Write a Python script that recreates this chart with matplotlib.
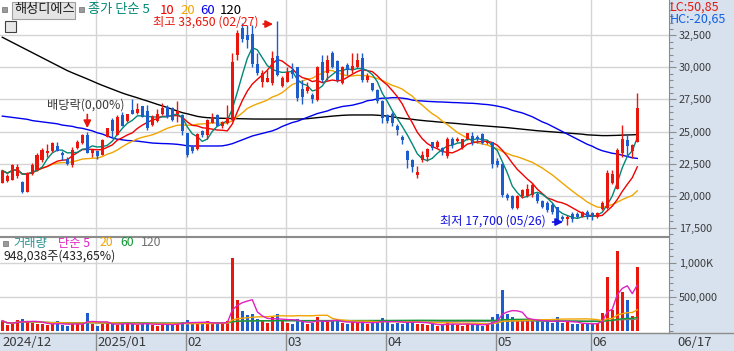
import numpy as np
import pandas as pd
import matplotlib
matplotlib.use('Agg')
import matplotlib.pyplot as plt
from matplotlib.patches import Rectangle

plt.rcParams['font.family'] = ['Noto Sans CJK KR', 'DejaVu Sans']

# ---------------- data (daily candles, 2024-12-02 .. 2025-06-17) ----------------
opens = [21000, 21150, 21250, 21500, 21100, 20300, 21700, 22000, 22800, 23300,
         23450, 23850, 23300, 22850, 22400, 23700, 24100, 24750, 23350, 23450,
         23150, 24600, 25900, 24750, 26300, 25800, 26700, 26450, 26950, 26600,
         25500, 25800, 26350, 26900, 26800, 26350, 26300, 24850, 23850, 23650,
         25050, 24750, 25700, 26250, 25450, 25650, 25900, 30950, 33100, 32550,
         32600, 30300, 28900, 28900, 28750, 30900, 28550, 28900, 29800, 30000,
         28350, 28150, 27850, 27450, 30450, 29550, 31100, 30500, 28750, 30150,
         29800, 30050, 30750, 29000, 28750, 28250, 27350, 26300, 26400, 25450,
         24600, 23500, 22800, 21600, 22800, 23000, 24150, 23800, 23700, 23050,
         24450, 24250, 23700, 24450, 24650, 24550, 24800, 24100, 24150, 22700,
         22500, 20050, 19950, 19000, 19950, 19950, 20050, 20150, 19550, 19450,
         19250, 19100, 18350, 18150, 18600, 18600, 18350, 18750, 18650, 18300,
         18950, 19000, 20950, 20550, 23300, 24350, 23500, 24150]
highs = [22000, 21700, 22500, 22450, 21150, 21850, 22550, 23300, 23700, 24000,
         24200, 24150, 23450, 23000, 23800, 24350, 24800, 25000, 23600, 23500,
         24450, 25300, 26050, 26300, 26550, 26400, 27500, 27200, 27000, 27050,
         26250, 26750, 27250, 27050, 26900, 27350, 26350, 24900, 23900, 24850,
         25100, 25950, 26450, 26350, 25850, 27050, 31100, 32900, 33450, 33300,
         33300, 31100, 29800, 29800, 31250, 33650, 29350, 30050, 30350, 30050,
         29000, 28900, 28000, 30100, 30950, 30950, 31300, 30600, 30100, 30350,
         31100, 31100, 31100, 29550, 28800, 28300, 27450, 26400, 26550, 25600,
         24750, 23550, 22850, 22300, 23450, 23700, 24200, 24300, 23800, 24600,
         24600, 24550, 24450, 24900, 25000, 24750, 24850, 24300, 24200, 22900,
         22550, 20200, 20050, 20050, 20550, 20900, 20950, 20250, 19650, 19550,
         19400, 19150, 18450, 18500, 18700, 18700, 18800, 18900, 18750, 18750,
         19550, 22000, 22000, 23700, 25500, 24800, 24050, 28000]
lows = [20950, 21100, 21200, 21400, 20200, 20300, 21600, 21950, 22650, 23050,
        23400, 23450, 22800, 22400, 22250, 23600, 24000, 23350, 23050, 22850,
        23150, 24550, 24600, 24750, 25400, 25750, 26350, 26400, 26100, 25150,
        25450, 25750, 26300, 26050, 25850, 25750, 24750, 23050, 23300, 23550,
        24600, 24450, 25650, 25400, 25300, 25550, 25850, 30600, 32000, 31500,
        30050, 29400, 28500, 28850, 28650, 29350, 28500, 28850, 29150, 27350,
        27150, 28000, 27250, 27350, 28900, 29000, 29950, 28900, 28700, 29400,
        29550, 29950, 28900, 28900, 28150, 27250, 25650, 25650, 25400, 24750,
        24050, 22150, 21850, 21400, 22650, 22700, 23550, 23700, 23150, 22900,
        23700, 24200, 23650, 24350, 23950, 24100, 24000, 24000, 22150, 22250,
        19900, 19650, 18950, 18950, 19850, 19900, 19900, 19400, 19000, 18750,
        18600, 17900, 18000, 17700, 17950, 18250, 18300, 18150, 18100, 18250,
        18900, 18950, 20900, 20500, 23050, 23150, 22900, 24150]
closes = [21950, 21550, 22350, 22250, 20300, 21800, 22400, 23150, 23550, 23450,
          24100, 23500, 23150, 22450, 23550, 24200, 24750, 23350, 23550, 23100,
          24350, 25250, 25000, 26150, 25450, 26350, 26400, 26750, 26150, 25250,
          26150, 26350, 26800, 26150, 25900, 26600, 25000, 23150, 23450, 24800,
          24750, 25900, 26150, 25450, 25750, 26050, 30400, 32650, 32250, 32150,
          30250, 29550, 29550, 29200, 30750, 29400, 29150, 29650, 29500, 27600,
          27700, 28500, 27500, 30050, 29000, 30600, 30050, 29000, 30050, 29800,
          30100, 30600, 29000, 29300, 28200, 27350, 26050, 25850, 25650, 25100,
          24300, 22800, 22250, 21850, 23150, 23600, 23700, 24150, 23450, 24450,
          23950, 24450, 24400, 24850, 24100, 24400, 24100, 24200, 22500, 22350,
          20050, 19800, 19000, 19950, 20400, 20550, 20850, 19550, 19150, 18900,
          18750, 18100, 18150, 18350, 18150, 18350, 18750, 18350, 18300, 18650,
          19450, 21750, 21700, 23550, 24450, 23850, 23950, 26800]
volumes = [150000, 90000, 110000, 160000, 170000, 150000, 120000, 100000, 110000, 90000,
           100000, 140000, 90000, 80000, 100000, 110000, 120000, 260000, 110000, 80000,
           100000, 120000, 110000, 90000, 100000, 120000, 100000, 90000, 120000, 110000,
           90000, 80000, 100000, 110000, 90000, 120000, 130000, 160000, 120000, 100000,
           130000, 140000, 110000, 100000, 110000, 150000, 1070000, 450000, 300000, 230000,
           250000, 180000, 150000, 120000, 200000, 250000, 150000, 120000, 110000, 180000,
           140000, 100000, 120000, 210000, 150000, 130000, 160000, 140000, 120000, 110000,
           130000, 120000, 150000, 100000, 120000, 140000, 190000, 130000, 110000, 120000,
           110000, 160000, 150000, 110000, 100000, 90000, 100000, 80000, 90000, 130000,
           110000, 90000, 80000, 100000, 110000, 90000, 80000, 100000, 200000, 250000,
           600000, 250000, 200000, 180000, 150000, 170000, 160000, 150000, 130000, 140000,
           120000, 200000, 120000, 130000, 110000, 100000, 110000, 100000, 110000, 120000,
           265000, 800000, 310000, 1180000, 578000, 456000, 220000, 948038]
ma60 = [26200, 26150, 26100, 26050, 26000, 25950, 25850, 25800, 25750, 25700,
        25650, 25600, 25500, 25450, 25400, 25300, 25250, 25150, 25050, 24900,
        24800, 24650, 24500, 24400, 24350, 24300, 24280, 24250, 24200, 24150,
        24100, 24080, 24060, 24050, 24030, 24000, 23950, 23880, 23870, 23870,
        23870, 23870, 23870, 23870, 23880, 23950, 24050, 24200, 24350, 24500,
        24650, 24750, 24850, 24950, 25050, 25200, 25400, 25550, 25700, 25800,
        25950, 26100, 26250, 26400, 26500, 26600, 26750, 26850, 26950, 27000,
        27050, 27150, 27250, 27400, 27450, 27550, 27600, 27600, 27640, 27640,
        27600, 27550, 27450, 27400, 27380, 27350, 27330, 27310, 27300, 27280,
        27260, 27250, 27230, 27210, 27200, 27170, 27130, 27100, 27050, 26980,
        26900, 26800, 26650, 26550, 26450, 26300, 26150, 25950, 25750, 25600,
        25400, 25200, 25000, 24800, 24600, 24400, 24200, 24000, 23850, 23650,
        23500, 23400, 23300, 23250, 23150, 23050, 22950, 22900]
ma120 = [32350, 32150, 31950, 31750, 31550, 31350, 31150, 30950, 30750, 30550,
         30350, 30150, 29950, 29750, 29580, 29420, 29260, 29100, 28930, 28760,
         28600, 28450, 28300, 28150, 28000, 27870, 27750, 27630, 27500, 27380,
         27250, 27120, 27000, 26870, 26730, 26600, 26470, 26380, 26280, 26180,
         26120, 26080, 26060, 26040, 26030, 26020, 26010, 26000, 25990, 25980,
         25975, 25970, 25970, 25970, 25970, 25970, 25970, 25970, 25975, 25975,
         25980, 26000, 26040, 26080, 26120, 26160, 26200, 26230, 26260, 26280,
         26290, 26290, 26290, 26290, 26290, 26270, 26240, 26200, 26150, 26080,
         26030, 25990, 25950, 25900, 25860, 25820, 25790, 25750, 25720, 25680,
         25650, 25620, 25580, 25550, 25510, 25480, 25450, 25420, 25390, 25360,
         25330, 25300, 25260, 25220, 25180, 25140, 25100, 25060, 25030, 25000,
         24970, 24940, 24910, 24880, 24850, 24820, 24790, 24740, 24720, 24700,
         24680, 24680, 24690, 24700, 24720, 24730, 24740, 24760]

month_labels = ['2024/12', '2025/01', '02', '03', '04', '05', '06']
month_index = [0, 19, 37, 57, 77, 99, 118]
last_date_label = '06/17'
price_ticks = [17500, 20000, 22500, 25000, 27500, 30000, 32500]
vol_ticks = [500000, 1000000]
vol_tick_labels = ['500,000', '1,000K']

high_idx, high_val, high_text = 55, 33650, '최고 33,650 (02/27)'
low_idx, low_val, low_text = 113, 17700, '최저 17,700 (05/26)'
div_idx, div_text = 17, '배당락(0,00%)'

# ---------------- layout ----------------
W, H = 734, 351
fig = plt.figure(figsize=(W / 100, H / 100), dpi=100)
fig.patch.set_facecolor('white')

RED = '#e8160c'
BLUE = '#1c5ccc'
GRID = '#d4d4d4'
STRIP = '#d8e2ee'
AXC = '#8c8c8c'
TXT = '#3a3a3a'

def fx(x):
    return x / W

def fy(y):
    return 1 - y / H

PLOT_R = 669
fig.add_artist(Rectangle((fx(PLOT_R), 0), 1 - fx(PLOT_R), 1, transform=fig.transFigure,
                         facecolor=STRIP, edgecolor='none', zorder=0))
fig.add_artist(Rectangle((0, 0), 1, (351 - 333) / H, transform=fig.transFigure,
                         facecolor=STRIP, edgecolor='none', zorder=0))

axp = fig.add_axes([0, fy(236), fx(PLOT_R), (236 - 0) / H])
axv = fig.add_axes([0, fy(333), fx(PLOT_R), (333 - 237) / H])

n = len(closes)
idx = np.arange(n)
o = np.array(opens, float); c = np.array(closes, float)
hi = np.array(highs, float); lo = np.array(lows, float)
up = c >= o
cols = np.where(up, RED, BLUE)

xmin, xmax = -0.46, -0.46 + PLOT_R / 5.0
for ax in (axp, axv):
    ax.set_xlim(xmin, xmax)
    ax.set_facecolor('white')
    for s in ('left', 'top'):
        ax.spines[s].set_visible(False)
    ax.spines['right'].set_color(AXC)
    ax.spines['bottom'].set_color(AXC)
    ax.set_xticks([])
    ax.yaxis.tick_right()
    ax.tick_params(axis='y', which='both', colors=AXC, labelcolor=TXT, labelsize=7.8,
                   direction='out', pad=2)
    ax.tick_params(axis='y', which='major', length=5, width=0.8)
    ax.tick_params(axis='y', which='minor', length=3, width=0.8)
    for mi in month_index[1:]:
        ax.axvline(mi - 0.35, color=GRID, lw=1, zorder=0)

axv.spines['top'].set_visible(True)
axv.spines['top'].set_color(AXC)

# price panel
pmin = 25000 + (131.5 - 236) * 78
pmax = 25000 + (131.5 - 0) * 78
axp.set_ylim(pmin, pmax)
axp.set_yticks(price_ticks)
axp.set_yticklabels([f'{t:,}' for t in price_ticks])
axp.set_yticks(np.arange(17000, 35500, 500), minor=True)
for t in price_ticks:
    axp.axhline(t, color=GRID, lw=1, zorder=0)

cs = pd.Series(c)
ma5 = cs.rolling(5, min_periods=1).mean()
ma10 = cs.rolling(10, min_periods=1).mean()
ma20 = cs.rolling(20, min_periods=1).mean()
axp.plot(idx, ma120, color='black', lw=1, zorder=2)
axp.plot(idx, ma60, color='#0000f0', lw=1, zorder=2)
axp.plot(idx, ma20, color='#f0a500', lw=1, zorder=2)
axp.plot(idx, ma10, color='#f00000', lw=1, zorder=2)
axp.plot(idx, ma5, color='#008878', lw=1, zorder=2)

axp.vlines(idx, lo, hi, colors=cols, lw=1, zorder=3)
body_lo = np.minimum(o, c)
body_h = np.maximum(np.abs(c - o), 60)
axp.bar(idx, body_h, bottom=body_lo, width=0.72, color=cols, linewidth=0, zorder=4)

axp.annotate('', xy=(high_idx - 0.3, 33380), xytext=(51.6, 33380),
             arrowprops=dict(arrowstyle='-|>', color=RED, lw=1.2, mutation_scale=11), zorder=5)
axp.text(51.2, 33500, high_text, color=RED, ha='right', va='center', fontsize=8.8)
axp.annotate('', xy=(div_idx, 25050), xytext=(div_idx, 26550),
             arrowprops=dict(arrowstyle='-|>', color=RED, lw=1.2, mutation_scale=11), zorder=5)
axp.text(9.0, 27080, div_text, color=TXT, ha='left', va='center', fontsize=8.8)
axp.annotate('', xy=(low_idx - 0.3, 17940), xytext=(109.5, 17940),
             arrowprops=dict(arrowstyle='-|>', color='#1010e0', lw=1.2, mutation_scale=11), zorder=5)
axp.text(87.6, 17980, low_text, color='#1010e0', ha='left', va='center', fontsize=8.8)

# volume panel
v = np.array(volumes, float)
vmin = (331 - 333) * 14706.0
vmax = (331 - 237) * 14706.0
axv.set_ylim(vmin, vmax)
axv.set_yticks(vol_ticks)
axv.set_yticklabels(vol_tick_labels)
axv.set_yticks(np.arange(0, 1400000, 100000), minor=True)
for t in vol_ticks:
    axv.axhline(t, color=GRID, lw=1, zorder=0)
axv.bar(idx, v, width=0.6, color=cols, linewidth=0, zorder=3)
vs = pd.Series(v)
axv.plot(idx, vs.rolling(120, min_periods=1).mean(), color='#808080', lw=1, zorder=4)
axv.plot(idx, vs.rolling(60, min_periods=1).mean(), color='#119933', lw=1, zorder=4)
axv.plot(idx, vs.rolling(20, min_periods=1).mean(), color='#f0a500', lw=1, zorder=4)
axv.plot(idx, vs.rolling(5, min_periods=1).mean(), color='#e020c0', lw=1, zorder=4)

def ftext(x, y, s, **kw):
    kw.setdefault('va', 'center')
    kw.setdefault('ha', 'left')
    fig.text(fx(x), fy(y), s, **kw)

fig.add_artist(Rectangle((fx(2), fy(12)), 5 / W, 5 / H, transform=fig.transFigure,
                         facecolor='#9a9a9a', edgecolor='#707070', lw=0.5))
fig.add_artist(Rectangle((fx(12), fy(19)), 63 / W, 17 / H, transform=fig.transFigure,
                         facecolor='#e4e4e4', edgecolor='#a0a0a0', lw=0.8))
ftext(14, 10, '해성디에스', fontsize=9.5, color='#202020')
fig.add_artist(Rectangle((fx(79), fy(12)), 5 / W, 5 / H, transform=fig.transFigure,
                         facecolor='#9a9a9a', edgecolor='#707070', lw=0.5))
ftext(88, 10, '종가 단순 5', fontsize=9.5, color='#008878')
ftext(160, 10, '10', fontsize=9.5, color='#f00000')
ftext(180, 10, '20', fontsize=9.5, color='#f0a500')
ftext(200, 10, '60', fontsize=9.5, color='#0000f0')
ftext(220, 10, '120', fontsize=9.5, color='black')
fig.add_artist(Rectangle((fx(5), fy(32)), 11 / W, 11 / H, transform=fig.transFigure,
                         facecolor='#e8e8e8', edgecolor='#404040', lw=0.8))

ftext(670, 7, 'LC:50,85', fontsize=9, color=RED)
ftext(670, 19, 'HC:-20,65', fontsize=9, color='#1060e0')

fig.add_artist(Rectangle((fx(3), fy(246)), 5 / W, 5 / H, transform=fig.transFigure,
                         facecolor='#9a9a9a', edgecolor='#707070', lw=0.5))
ftext(13, 243, '거래량', fontsize=8.8, color='#2a9090')
ftext(58, 243, '단순 5', fontsize=8.8, color='#e020c0')
ftext(100, 243, '20', fontsize=8.8, color='#f0a500')
ftext(120, 243, '60', fontsize=8.8, color='#119933')
ftext(141, 243, '120', fontsize=8.8, color='#707070')
ftext(4, 256, '948,038주(433,65%)', fontsize=8.8, color='#202020')

fig.add_artist(plt.Line2D([0, 1], [fy(333), fy(333)], transform=fig.transFigure, color=AXC, lw=1))
for lab, mi in zip(month_labels, month_index):
    px = (mi - 0.35 - xmin) * 5
    if mi > 0:
        fig.add_artist(plt.Line2D([fx(px), fx(px)], [0, fy(333)], transform=fig.transFigure,
                                  color=AXC, lw=1))
    ftext(max(px, 0) + 1.5, 342, lab, fontsize=9.5, color=TXT)
ftext(677, 342, last_date_label, fontsize=9.5, color=TXT)

fig.savefig('out.png', dpi=100)
